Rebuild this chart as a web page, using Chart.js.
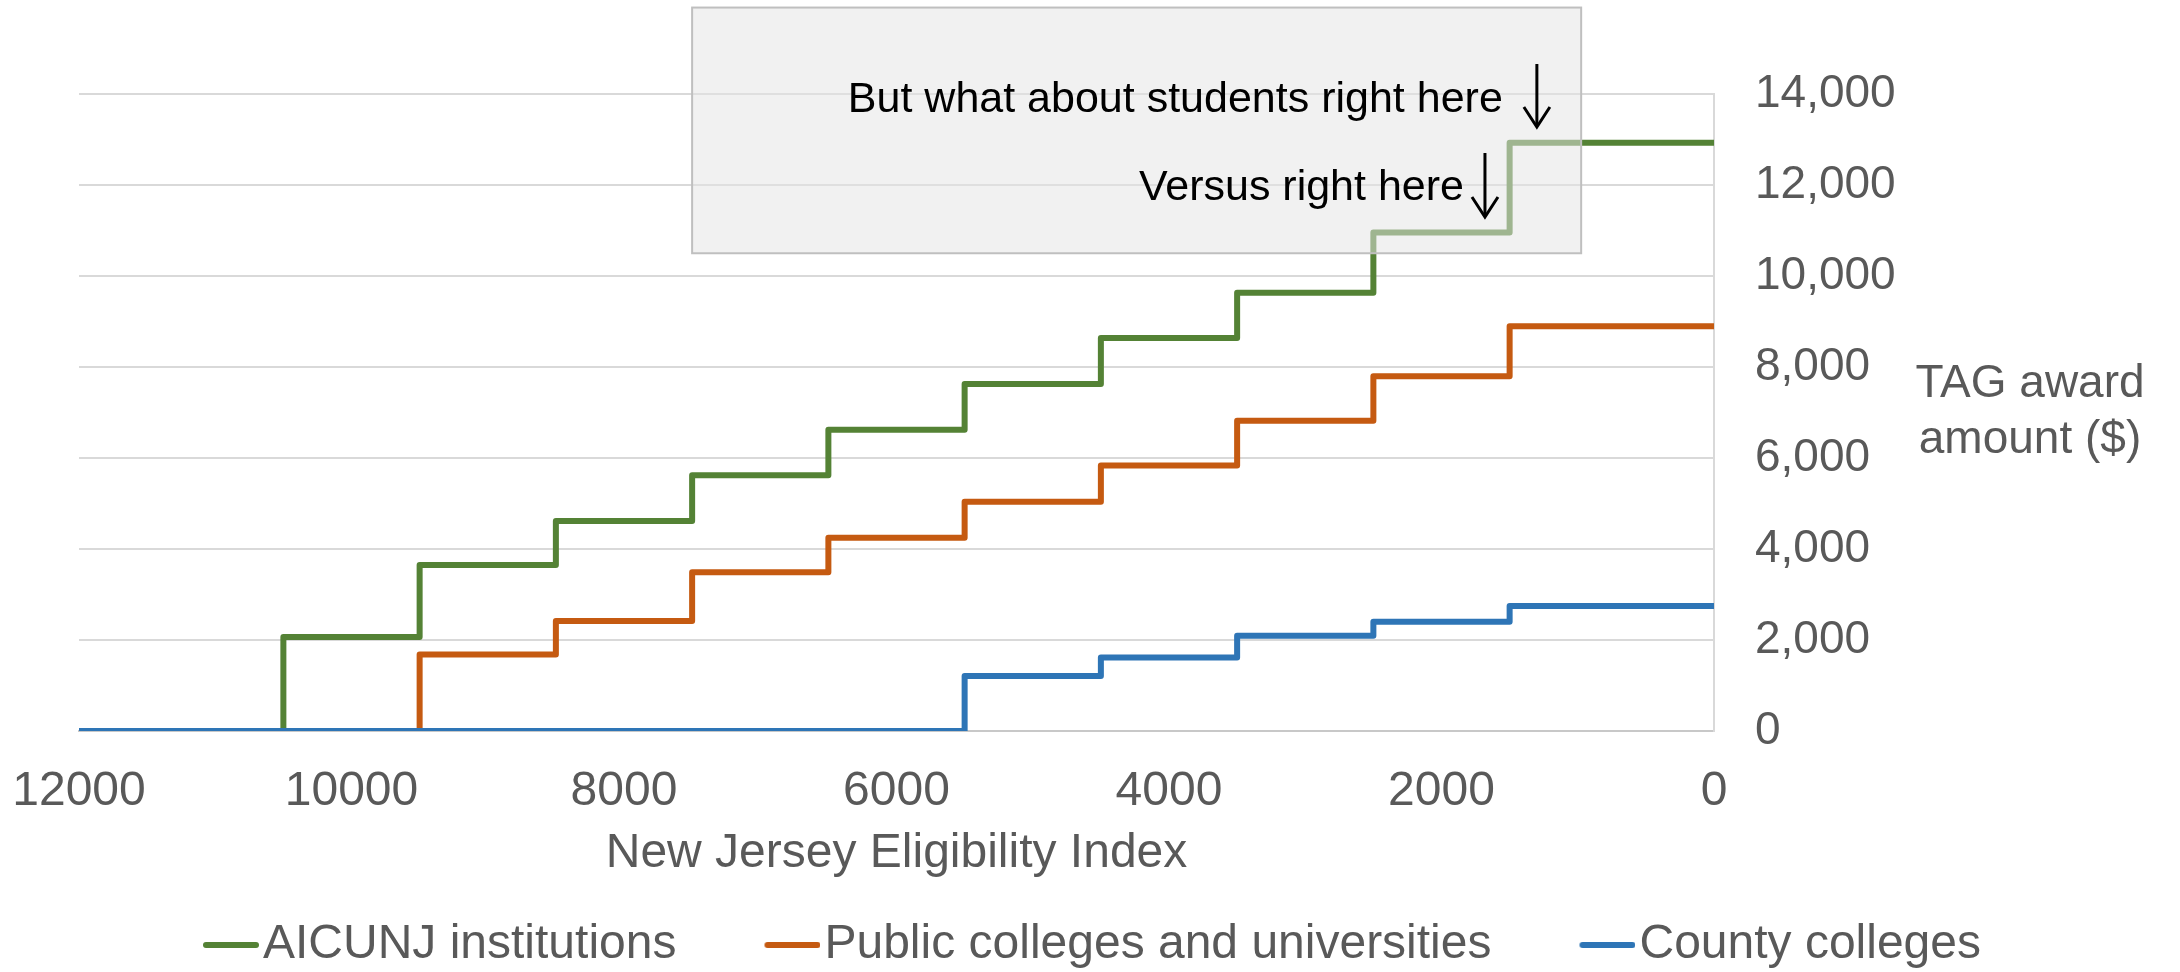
<!DOCTYPE html>
<html>
<head>
<meta charset="utf-8">
<title>TAG award amount by New Jersey Eligibility Index</title>
<script src="https://cdn.jsdelivr.net/npm/chart.js@4.4.1/dist/chart.umd.min.js"></script>
<style>
  html, body { margin: 0; padding: 0; background: #ffffff; }
  #wrap { width: 2180px; height: 972px; }
</style>
</head>
<body>
<div id="wrap"><canvas id="chart" width="2180" height="972"></canvas></div>
<script>
// Step points: NJEI value where each award level begins (read right-to-left on the axis)
const eligibilityIndex = [12000, 10500, 9500, 8500, 7500, 6500, 5500, 4500, 3500, 2500, 1500, 0];
const aicunjAward  = [0, 2064, 3649, 4615, 5619, 6623, 7627, 8640, 9634, 10957, 12927, 12927];
const publicAward  = [0, 0, 1679, 2420, 3490, 4250, 5038, 5835, 6820, 7795, 8893, 8893];
const countyAward  = [0, 0, 0, 0, 0, 0, 1210, 1614, 2092, 2402, 2749, 2749];

const seriesNames  = ['AICUNJ institutions', 'Public colleges and universities', 'County colleges'];
const seriesColors = ['#548235', '#c55a11', '#2e75b6'];

const xTickValues = [12000, 10000, 8000, 6000, 4000, 2000, 0];
const yTickValues = [0, 2000, 4000, 6000, 8000, 10000, 12000, 14000];

const xTitle = 'New Jersey Eligibility Index';
const yTitleLines = ['TAG award', 'amount ($)'];

// Callout box and its two notes, placed in axis units
const noteBox = { xFrom: 7500, xTo: 975, yTop: 15900, yBottom: 10500 };
const noteTexts = [
  { text: 'But what about students right here', xRight: 1550, yBase: 13604 },
  { text: 'Versus right here', xRight: 1835, yBase: 11670 }
];
const noteArrows = [
  { x: 1300, yFrom: 14659, yTo: 13275 },
  { x: 1681, yFrom: 12703, yTo: 11297 }
];

const FONT = "'Liberation Sans', Arial, Helvetica, sans-serif";
Chart.defaults.font.family = FONT;

// Legend swatch: a short line sitting at the right end of a wider transparent image
function legendLine(color) {
  const c = document.createElement('canvas');
  c.width = 80; c.height = 10;
  const g = c.getContext('2d');
  g.strokeStyle = color;
  g.lineWidth = 6;
  g.lineCap = 'round';
  g.beginPath();
  g.moveTo(27, 5);
  g.lineTo(77, 5);
  g.stroke();
  return c;
}

function makeSeries(values, i, order) {
  return {
    label: seriesNames[i],
    data: eligibilityIndex.map((x, k) => ({ x: x, y: values[k] })),
    borderColor: seriesColors[i],
    backgroundColor: seriesColors[i],
    borderWidth: 6,
    stepped: 'before',
    fill: false,
    pointRadius: 0,
    pointHoverRadius: 0,
    pointStyle: legendLine(seriesColors[i]),
    borderJoinStyle: 'round',
    borderCapStyle: 'round',
    order: order
  };
}

const notesPlugin = {
  id: 'notes',
  afterDatasetsDraw(chart) {
    const { ctx, scales: { x, y } } = chart;
    ctx.save();
    const bx0 = x.getPixelForValue(noteBox.xFrom);
    const bx1 = x.getPixelForValue(noteBox.xTo);
    const by0 = y.getPixelForValue(noteBox.yTop);
    const by1 = y.getPixelForValue(noteBox.yBottom);
    ctx.fillStyle = 'rgba(228,228,228,0.52)';
    ctx.fillRect(bx0, by0, bx1 - bx0, by1 - by0);
    ctx.strokeStyle = '#bfbfbf';
    ctx.lineWidth = 2;
    ctx.strokeRect(bx0, by0, bx1 - bx0, by1 - by0);

    ctx.fillStyle = '#000000';
    ctx.font = '43px ' + FONT;
    ctx.textAlign = 'right';
    ctx.textBaseline = 'alphabetic';
    noteTexts.forEach(n => {
      ctx.fillText(n.text, x.getPixelForValue(n.xRight), y.getPixelForValue(n.yBase));
    });

    ctx.strokeStyle = '#000000';
    ctx.lineWidth = 3;
    ctx.lineJoin = 'miter';
    noteArrows.forEach(a => {
      const ax = x.getPixelForValue(a.x);
      const top = y.getPixelForValue(a.yFrom);
      const tip = y.getPixelForValue(a.yTo);
      ctx.beginPath();
      ctx.moveTo(ax, top);
      ctx.lineTo(ax, tip - 1);
      ctx.stroke();
      ctx.beginPath();
      ctx.moveTo(ax - 13, tip - 20);
      ctx.lineTo(ax, tip);
      ctx.lineTo(ax + 13, tip - 20);
      ctx.stroke();
    });
    ctx.restore();
  },
  afterDraw(chart) {
    // Horizontal two-line title beside the right-hand value axis
    const { ctx, chartArea } = chart;
    ctx.save();
    ctx.fillStyle = '#595959';
    ctx.font = '46px ' + FONT;
    ctx.textAlign = 'center';
    ctx.textBaseline = 'middle';
    const cx = chartArea.right + 316;
    const cy = (chartArea.top + chartArea.bottom) / 2;
    ctx.fillText(yTitleLines[0], cx, cy - 28);
    ctx.fillText(yTitleLines[1], cx, cy + 28);
    ctx.restore();
  }
};

new Chart(document.getElementById('chart'), {
  type: 'line',
  data: {
    datasets: [
      makeSeries(aicunjAward, 0, 2),
      makeSeries(publicAward, 1, 1),
      makeSeries(countyAward, 2, 0)
    ]
  },
  options: {
    responsive: false,
    animation: false,
    devicePixelRatio: 1,
    layout: { padding: { top: 94, left: 0, right: 0, bottom: 0 } },
    plugins: {
      tooltip: { enabled: false },
      legend: {
        position: 'bottom',
        maxHeight: 135,
        labels: {
          usePointStyle: true,
          pointStyleWidth: 40,
          boxHeight: 10,
          padding: 84,
          color: '#595959',
          font: { size: 48 },
          sort: (a, b) => a.datasetIndex - b.datasetIndex
        }
      }
    },
    scales: {
      x: {
        type: 'linear',
        reverse: true,
        min: 0,
        max: 12000,
        afterBuildTicks: s => { s.ticks = xTickValues.map(v => ({ value: v })); },
        afterFit: s => { s.height = 106; s.paddingLeft = 79; },
        grid: { display: false, drawTicks: false },
        border: { display: true, color: '#c8c8c8', width: 2 },
        ticks: {
          color: '#595959',
          font: { size: 48 },
          padding: 32,
          maxRotation: 0,
          autoSkip: false,
          callback: v => String(v)
        },
        title: {
          display: true,
          text: xTitle,
          color: '#595959',
          font: { size: 48 },
          padding: { top: 0, bottom: -46 }
        }
      },
      y: {
        position: 'right',
        min: 0,
        max: 14000,
        afterBuildTicks: s => { s.ticks = yTickValues.map(v => ({ value: v })); },
        afterFit: s => { s.width = 466; },
        grid: { color: '#d9d9d9', lineWidth: 2, drawTicks: false },
        border: { display: true, color: '#d9d9d9', width: 2 },
        ticks: {
          color: '#595959',
          font: { size: 46 },
          padding: 41,
          crossAlign: 'near',
          callback: v => v.toLocaleString('en-US')
        }
      }
    }
  },
  plugins: [notesPlugin]
});
</script>
</body>
</html>
